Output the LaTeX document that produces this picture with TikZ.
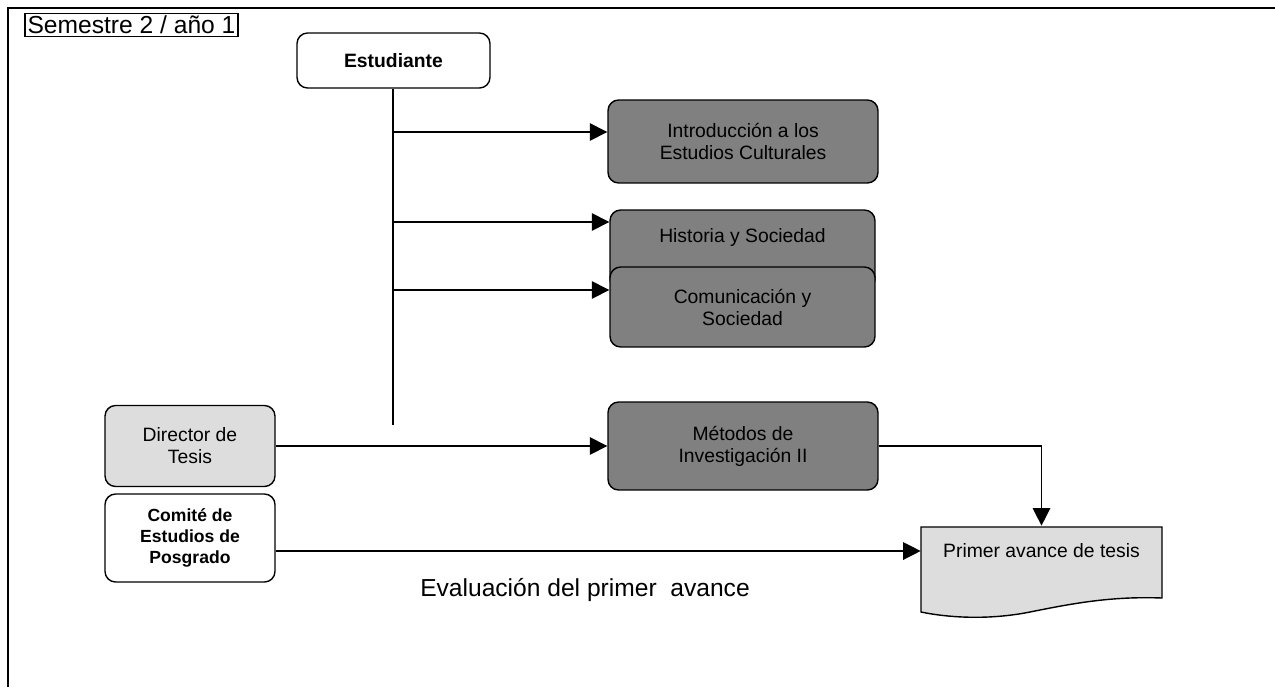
\documentclass[tikz,border=0pt]{standalone}
\usepackage{fontspec}
\setmainfont{Liberation Sans}
\usetikzlibrary{arrows.meta}
\definecolor{oscuro}{HTML}{808080}
\definecolor{claro}{HTML}{DDDDDD}
\begin{document}
\begin{tikzpicture}[x=0.02cm,y=-0.02cm,
    caja/.style={shape=rectangle,draw=black,line width=0.8pt,rounded corners=6pt,
        inner sep=0pt,align=center,font=\fontsize{11}{12.5}\selectfont},
    materia/.style={caja,fill=oscuro,minimum width=5.4cm,minimum height=1.66cm},
    actor/.style={caja,minimum width=3.4cm,minimum height=1.62cm},
    flecha/.style={line width=0.75pt,-{Triangle[length=10pt,width=10pt]}}]
    \useasboundingbox (0,0) rectangle (1275,687);
    % marco
    \draw[line width=1.7pt] (8,687) -- (8,8) -- (1275,8);
    \node[draw=black,line width=0.8pt,inner sep=1.5pt,font=\fontsize{14}{16}\selectfont] (sem) at (131.5,25) {Semestre 2 / año 1};

    \node[caja,minimum width=3.86cm,minimum height=1.1cm,font=\fontsize{11}{12.5}\selectfont\bfseries] (E) at (393.5,60.5) {Estudiante};
    \node[materia] (I) at (743,141.5) {Introducción a los\\Estudios Culturales};
    \node[materia,minimum width=5.3cm,minimum height=1.6cm,
        label={[anchor=north,yshift=-0.25cm,font=\fontsize{11}{12.5}\selectfont]north:Historia y Sociedad}] (H) at (742.5,250) {};
    \node[materia,minimum width=5.3cm,minimum height=1.6cm] (C) at (742.5,307) {Comunicación y\\Sociedad};
    \node[materia,minimum height=1.76cm] (M) at (743,446) {Métodos de\\Investigación II};
    \node[actor,fill=claro] (D) at (190,446) {Director de\\Tesis};
    \node[actor,minimum height=1.76cm,font=\fontsize{10}{12}\selectfont\bfseries] (P) at (190,538) {Comité de\\Estudios de\\Posgrado};

    % documento
    \fill[claro] (921,527) -- (1162,527) -- (1162,598) .. controls (1110,596) and (1070,604) .. (1030,612) .. controls (990,620) and (950,618) .. (921,612) -- cycle;
    \draw[line width=0.8pt] (921,527) -- (1162,527) -- (1162,598) .. controls (1110,596) and (1070,604) .. (1030,612) .. controls (990,620) and (950,618) .. (921,612) -- cycle;
    \node[minimum width=4.82cm,minimum height=1cm,inner sep=0pt,font=\fontsize{11}{12.5}\selectfont] (T) at (1041.5,551) {Primer avance de tesis};

    \node[font=\fontsize{14}{16}\selectfont] (ev) at (585,590) {Evaluación del primer\ \ avance};

    % conexiones
    \coordinate (b1) at (393,132);
    \coordinate (b2) at (393,222);
    \coordinate (b3) at (393,290);
    \coordinate (t) at (393,425);
    \draw[line width=0.75pt] (E.south -| t) -- (t);
    \draw[flecha] (b1) -- (b1 -| I.west);
    \draw[flecha] (b2) -- (b2 -| H.west);
    \draw[flecha] (b3) -- (b3 -| C.west);
    \draw[flecha] (D.east) -- (M.west);
    \draw[flecha] (M.east) -| (T.north);
    \draw[flecha] (T.west -| P.east) -- (T.west);
\end{tikzpicture}
\end{document}
